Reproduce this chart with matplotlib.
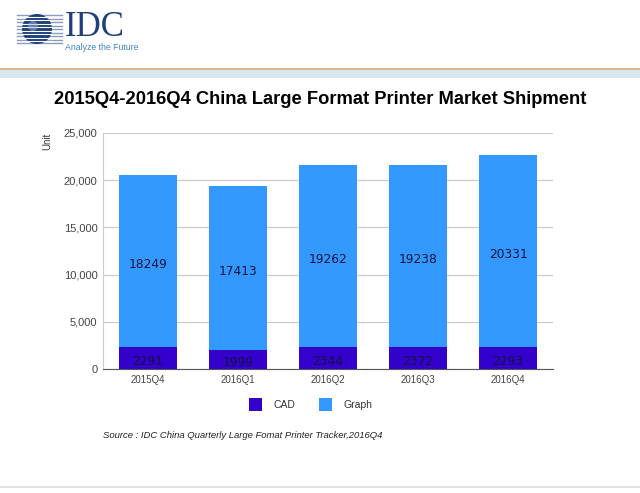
import matplotlib
matplotlib.use("Agg")
import matplotlib.pyplot as plt
import numpy as np
from matplotlib.patches import Rectangle, Circle

quarters = ["2015Q4", "2016Q1", "2016Q2", "2016Q3", "2016Q4"]
cad = [2291, 1999, 2344, 2372, 2293]
graph = [18249, 17413, 19262, 19238, 20331]
yticks = [0, 5000, 10000, 15000, 20000, 25000]

cad_color = "#3300cc"
graph_color = "#3399ff"

W, H = 640, 493
fig = plt.figure(figsize=(W / 100, H / 100), dpi=100)

# header / footer decoration (pixel coordinates)
bg = fig.add_axes([0, 0, 1, 1])
bg.set_xlim(0, W)
bg.set_ylim(H, 0)
bg.axis("off")
bg.add_patch(Rectangle((0, 67.5), W, 2, color="#d9b68c", lw=0))
bg.add_patch(Rectangle((0, 69.5), W, 8, color="#d7e8f1", lw=0))
bg.add_patch(Rectangle((0, 486), W, 1.5, color="#e2e2e2", lw=0))

# IDC logo: striped globe
gx, gy, r = 37, 29, 15
for yy in np.arange(gy - r + 1, gy + r, 3.5):
    bg.plot([17, 62], [yy, yy], color="#8a9cbc", lw=1.0)
bg.add_patch(Circle((gx, gy), r, color="#1f3f7a", lw=0, zorder=3))
for yy in np.arange(gy - r + 2.5, gy + r, 3.5):
    bg.plot([gx - r, gx + r], [yy, yy], color="white", lw=0.8, zorder=4)
bg.add_patch(Circle((gx - 4, gy - 3), 5, color="#9fb8dd", lw=0, alpha=0.5, zorder=5))
bg.text(65, 27, "IDC", fontsize=25, family="Liberation Serif", color="#1f3f7a",
        va="center", ha="left")
bg.text(65, 48, "Analyze the Future", fontsize=6.3, color="#3f86c6",
        va="center", ha="left", family="Liberation Sans")

bg.text(320, 99, "2015Q4-2016Q4 China Large Format Printer Market Shipment",
        fontsize=13.2, fontweight="bold", family="Liberation Sans",
        ha="center", va="center", color="black")

# main chart
ax = fig.add_axes([103 / W, (H - 369) / H, 450 / W, 236 / H])
x = np.arange(len(quarters))
ax.bar(x, cad, width=0.645, color=cad_color, zorder=3)
ax.bar(x, graph, width=0.645, bottom=cad, color=graph_color, zorder=3)

for i in range(len(quarters)):
    ax.text(x[i], cad[i] * 0.33, str(cad[i]), ha="center", va="center",
            fontsize=8.8, color="#14143c", zorder=4)
    ax.text(x[i], cad[i] + graph[i] / 2 - 350, str(graph[i]), ha="center",
            va="center", fontsize=8.8, color="#14143c", zorder=4)

ax.set_xlim(-0.5, len(quarters) - 0.5)
ax.set_ylim(0, 25000)
ax.set_yticks(yticks)
ax.set_yticklabels([f"{v:,}" for v in yticks], family="Liberation Sans",
                   fontsize=8, color="#444444")
ax.set_xticks(x)
ax.set_xticklabels(quarters, family="Liberation Sans", fontsize=7, color="#444444")
ax.tick_params(length=0, pad=4)
ax.grid(axis="y", color="#cccccc", lw=0.9, zorder=0)
for s in ["top", "right"]:
    ax.spines[s].set_visible(False)
ax.spines["left"].set_color("#cccccc")
ax.spines["bottom"].set_color("#555555")

bg.text(47, 141, "Unit", rotation=90, fontsize=7, family="Liberation Sans",
        color="#333333", ha="center", va="center")

# legend
bg.add_patch(Rectangle((249, 398), 13, 13, color=cad_color, lw=0))
bg.text(273, 405, "CAD", fontsize=7.5, family="Liberation Sans", color="#333333",
        va="center")
bg.add_patch(Rectangle((319, 398), 13, 13, color=graph_color, lw=0))
bg.text(343, 405, "Graph", fontsize=7.5, family="Liberation Sans", color="#333333",
        va="center")

bg.text(103, 435, "Source : IDC China Quarterly Large Fomat Printer Tracker,2016Q4",
        fontsize=6.8, style="italic", family="Liberation Sans", color="#222222",
        va="center")

fig.savefig("out.png", dpi=100)
